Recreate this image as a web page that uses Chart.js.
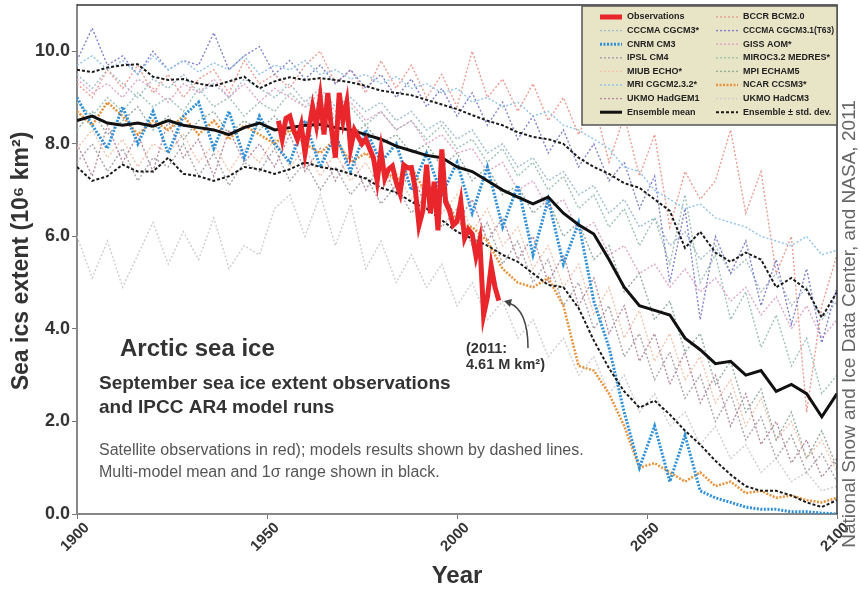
<!DOCTYPE html>
<html>
<head>
<meta charset="utf-8">
<script src="https://cdn.jsdelivr.net/npm/chart.js@4.4.1/dist/chart.umd.min.js"></script>
<style>
  body { margin: 0; background: #fff; }
  canvas { display: block; }
</style>
</head>
<body>
<canvas id="grafica" width="860" height="589"></canvas>
<script>
// years (categories)
const obsYears = [];
for (let y = 1953; y <= 2011; y++) obsYears.push(y);
const modelYears = [];
for (let y = 1900; y <= 2100; y += 4) modelYears.push(y);

const yTicks = [0, 2, 4, 6, 8, 10];
const xTicks = [1900, 1950, 2000, 2050, 2100];

// September extent, million km2
const observations = [8.5, 8.1, 8.55, 8.6, 8.3, 8.1, 8.4, 7.8, 8.3, 8.8,
  8.4, 9.0, 8.2, 9.1, 8.3, 7.7, 9.1, 8.5, 8.9, 7.9,
  8.3, 8.15, 8.0, 8.1, 7.9, 7.7,
  7.2, 7.85, 7.25, 7.45, 7.52, 7.17, 6.93, 7.54, 7.48, 7.49,
  7.04, 6.24, 6.55, 7.55, 6.5, 7.18, 6.13, 7.88, 6.74, 6.56,
  6.24, 6.32, 6.75, 5.96, 6.15, 6.05, 5.57, 5.92, 4.3, 4.68,
  5.36, 4.9, 4.61];

const ensembleMean = [8.5, 8.6, 8.45, 8.4, 8.45, 8.38, 8.5, 8.4, 8.35, 8.3,
  8.2, 8.35, 8.45, 8.3, 8.35, 8.4, 8.42, 8.35, 8.3, 8.2,
  8.1, 7.95, 7.85, 7.75, 7.7, 7.5, 7.4, 7.2, 7.0, 6.85,
  6.7, 6.85, 6.5, 6.25, 6.05, 5.5, 4.9, 4.5, 4.4, 4.3,
  3.8, 3.55, 3.25, 3.3, 3.0, 3.1, 2.65, 2.8, 2.6, 2.1, 2.6];
const ensembleUpper = [9.6, 9.55, 9.65, 9.7, 9.72, 9.45, 9.38, 9.4, 9.3, 9.25,
  9.35, 9.45, 9.2, 9.35, 9.44, 9.38, 9.42, 9.38, 9.33, 9.25,
  9.15, 9.1, 9.05, 8.95, 8.85, 8.75, 8.62, 8.5, 8.4, 8.25,
  8.15, 8.1, 8.0, 7.7, 7.5, 7.35, 7.15, 7.05, 6.8, 6.55,
  5.75, 6.1, 5.65, 5.45, 5.65, 5.5, 4.9, 5.1, 4.85, 4.25, 4.8];
const ensembleLower = [7.5, 7.2, 7.3, 7.55, 7.4, 7.4, 7.7, 7.35, 7.3, 7.2,
  7.3, 7.5, 7.45, 7.35, 7.45, 7.6, 7.5, 7.45, 7.35, 7.25,
  7.05, 6.95, 6.75, 6.6, 6.35, 6.1, 5.95, 5.8, 5.6, 5.45,
  5.2, 4.95, 4.9, 4.45, 3.75, 3.15, 2.65, 2.3, 2.45, 2.15,
  1.8, 1.5, 1.15, 0.85, 0.6, 0.5, 0.5, 0.4, 0.25, 0.15, 0.3];

const cnrm = [9.0, 8.4, 7.9, 8.8, 8.0, 8.7, 7.8, 8.6, 8.9, 7.9,
  8.7, 7.7, 8.6, 8.0, 7.6, 8.5, 7.5, 8.2, 7.4, 8.3,
  7.6, 8.0, 7.0, 7.8, 6.9, 7.6, 6.5, 7.5, 6.2, 7.1,
  5.6, 6.8, 5.4, 6.3, 4.6, 3.6, 2.2, 1.0, 1.9, 0.7,
  1.7, 0.5, 0.35, 0.25, 0.15, 0.1, 0.1, 0.05, 0.05, 0.02, 0.0];
const ncar = [8.7, 8.4, 8.9, 8.6, 8.2, 8.5, 8.3, 8.6, 8.2, 8.5,
  8.1, 8.4, 8.2, 8.0, 8.3, 8.0, 7.8, 8.1, 7.6, 7.8,
  7.5, 7.2, 7.5, 6.9, 7.0, 6.3, 6.2, 5.9, 5.3, 5.0,
  4.9, 5.1, 4.5, 3.2, 3.1, 2.6, 1.9, 1.0, 1.1, 0.9,
  0.7, 0.9, 0.6, 0.7, 0.45, 0.5, 0.35, 0.4, 0.3, 0.25, 0.35];
const mri = [9.7, 9.9, 9.6, 9.8, 9.5, 9.9, 9.6, 9.8, 9.55, 9.75,
  9.6, 9.9, 9.5, 9.7, 9.6, 9.8, 9.5, 9.6, 9.4, 9.5,
  9.3, 9.45, 9.2, 9.3, 9.1, 9.2, 8.9, 9.0, 8.8, 8.9,
  8.6, 8.7, 8.4, 8.3, 8.1, 7.9, 7.5, 7.4, 7.0, 6.8,
  6.6, 6.7, 6.4, 6.3, 6.2, 6.0, 5.9, 5.8, 6.0, 5.6, 5.7];
const cccmaT63 = [9.8, 10.5, 9.7, 9.9, 9.5, 10.0, 9.6, 9.8, 9.7, 10.4,
  9.6, 9.9, 10.1, 9.5, 9.8, 9.4, 9.7, 9.3, 9.6, 9.2,
  9.5, 9.0, 9.4, 8.8, 9.2, 8.6, 9.1, 8.4, 8.9, 8.1,
  8.6, 7.8, 8.3, 7.5, 8.0, 7.2, 7.6, 6.6, 7.3, 5.0,
  6.6, 4.2, 6.0, 5.2, 5.9, 4.5, 5.5, 4.1, 5.3, 3.7, 4.9];
const bccr = [9.3, 9.0, 9.6, 9.2, 9.7, 9.1, 9.5, 9.0, 9.4, 9.6,
  9.1, 9.8, 9.3, 9.5, 9.2, 9.7, 10.0, 9.3, 9.6, 9.1,
  9.8, 9.2, 9.7, 9.0, 9.5, 8.8, 10.0, 9.0, 9.4, 8.7,
  9.3, 8.5, 9.0, 8.2, 8.9, 7.6, 8.6, 7.3, 8.2, 6.2,
  7.4, 6.8, 7.2, 8.3, 6.5, 7.4, 5.2, 6.0, 2.2, 4.5, 5.6];
const giss = [9.4, 9.1, 9.3, 9.0, 9.4, 9.2, 8.9, 9.3, 9.1, 9.4,
  9.0, 9.3, 8.9, 9.2, 9.0, 8.8, 9.1, 8.7, 8.9, 8.5,
  8.7, 8.3, 8.5, 8.0, 8.2, 7.8, 7.9, 7.4, 7.6, 7.0,
  7.2, 6.6, 6.8, 6.1, 6.3, 5.6, 5.8, 5.2, 5.4, 4.9,
  5.3, 4.8, 5.1, 4.6, 4.9, 4.3, 4.7, 4.0, 4.5, 3.8, 4.2];
const miroc = [8.9, 8.6, 9.0, 8.7, 9.1, 8.8, 9.0, 8.7, 9.2, 8.8,
  9.0, 8.6, 8.9, 8.7, 9.1, 8.8, 8.9, 8.6, 8.8, 8.4,
  8.7, 8.3, 8.5, 8.1, 8.4, 7.9, 8.1, 7.6, 7.9, 7.3,
  7.6, 7.0, 7.3, 6.6, 6.9, 6.2, 6.6, 5.8, 6.4, 5.4,
  6.9, 5.0, 5.6, 4.2, 4.8, 3.6, 4.3, 3.2, 3.8, 2.6, 3.0];
const mpi = [8.3, 8.7, 8.2, 8.5, 8.8, 8.3, 8.6, 8.1, 8.5, 8.7,
  8.2, 8.5, 8.3, 8.6, 8.2, 8.5, 8.3, 8.6, 8.2, 8.4,
  8.0, 8.2, 7.8, 8.0, 7.5, 7.8, 7.2, 7.5, 6.9, 7.1,
  6.5, 6.8, 6.0, 6.3, 5.5, 5.8, 4.8, 5.2, 4.2, 4.6,
  3.5, 3.9, 2.8, 3.3, 2.2, 2.7, 1.6, 2.2, 1.2, 1.8, 1.0];
const hadgem1 = [8.0, 7.3, 8.4, 7.6, 8.2, 7.4, 8.5, 7.7, 8.1, 7.3,
  8.3, 7.6, 8.0, 7.5, 8.2, 7.4, 7.9, 7.2, 7.8, 7.0,
  7.6, 6.9, 7.4, 6.6, 7.1, 6.3, 6.8, 5.9, 6.4, 5.5,
  6.0, 5.0, 5.6, 4.5, 5.1, 3.9, 4.5, 3.3, 3.9, 2.8,
  3.5, 2.4, 3.0, 1.9, 2.6, 1.5, 2.0, 1.1, 1.6, 0.8, 1.2];
const ipsl = [7.6, 8.0, 7.4, 7.9, 7.2, 7.7, 7.5, 8.0, 7.3, 7.8,
  7.1, 7.6, 7.4, 7.9, 7.2, 7.6, 7.0, 7.5, 6.9, 7.3,
  6.7, 7.1, 6.5, 6.9, 6.2, 6.6, 5.8, 6.3, 5.4, 5.9,
  5.0, 5.5, 4.5, 5.0, 4.0, 4.5, 3.4, 3.9, 2.9, 3.5,
  2.5, 3.0, 2.0, 2.6, 1.6, 2.1, 1.2, 1.7, 0.9, 1.3, 0.7];
const miub = [7.9, 8.3, 7.7, 8.1, 7.5, 8.0, 7.8, 8.2, 7.6, 8.0,
  7.4, 7.9, 7.6, 8.1, 7.5, 7.9, 7.3, 7.8, 7.2, 7.6,
  7.0, 7.4, 6.8, 7.2, 6.5, 6.9, 6.1, 6.6, 5.8, 6.2,
  5.3, 5.8, 4.9, 5.4, 4.3, 4.9, 3.8, 4.4, 3.3, 3.9,
  2.9, 3.4, 2.4, 2.9, 1.9, 2.5, 1.6, 2.0, 1.2, 1.6, 0.9];
const hadcm3 = [6.0, 5.1, 5.9, 4.9, 5.6, 6.3, 5.4, 6.1, 5.5, 6.4,
  5.3, 5.8, 5.6, 6.6, 6.9, 6.0, 6.9, 5.8, 6.7, 5.3,
  5.9, 5.0, 5.6, 4.9, 5.4, 4.5, 5.0, 4.2, 4.6, 3.8,
  4.2, 3.4, 3.8, 3.0, 3.4, 2.6, 3.0, 2.2, 2.6, 1.9,
  2.2, 1.5, 1.9, 1.2, 1.5, 0.9, 1.2, 0.7, 0.9, 0.5, 0.6];
const cccma = [9.5, 9.2, 9.6, 9.3, 9.0, 9.4, 9.2, 9.5, 9.1, 9.3,
  9.0, 9.4, 9.2, 9.0, 9.3, 8.9, 9.2, 8.8, 9.0, 8.7,
  8.9, 8.5, 8.7, 8.3, 8.5, 8.1, 8.3, 7.8, 8.0, 7.5,
  7.7, 7.2, 7.4, 6.9, 7.1, 6.5, 6.8, 6.2, 6.4, 5.8,
  6.1, 5.5, 5.8, 5.2, 5.5, 4.8, 5.2, 4.5, 4.9, 4.2, 4.6];

const fuente = '"Liberation Sans", Arial, sans-serif';

function puntos(years, values) {
  return values.map((v, i) => ({ x: years[i], y: v }));
}

function serie(label, years, values, color, width, dash) {
  return {
    label: label,
    data: puntos(years, values),
    borderColor: color,
    backgroundColor: color,
    borderWidth: width,
    borderDash: dash || [],
    pointRadius: 0,
    fill: false,
    tension: 0
  };
}

// first dataset ends up on top
const datasets = [
  serie('Observations', obsYears, observations, '#e8262b', 5),
  serie('Ensemble mean', modelYears, ensembleMean, '#111111', 3),
  serie('Ensemble \u00b1 std. dev.', modelYears, ensembleUpper, '#1a1a1a', 2, [3, 2]),
  serie('lower', modelYears, ensembleLower, '#1a1a1a', 2, [3, 2]),
  serie('CNRM CM3', modelYears, cnrm, '#2f90d8', 3, [2, 1.5]),
  serie('NCAR CCSM3*', modelYears, ncar, '#e8923a', 2.5, [2, 1.5]),
  serie('MRI CGCM2.3.2*', modelYears, mri, '#8ec3ea', 1.4, [2, 2]),
  serie('CCCMA CGCM3.1(T63)', modelYears, cccmaT63, '#8080cc', 1.4, [2, 2]),
  serie('BCCR BCM2.0', modelYears, bccr, '#ec9b90', 1.4, [2, 2]),
  serie('GISS AOM*', modelYears, giss, '#e2a4c8', 1.4, [2, 2]),
  serie('MIROC3.2 MEDRES*', modelYears, miroc, '#9cc2b4', 1.4, [2, 2]),
  serie('MPI ECHAM5', modelYears, mpi, '#93ab9d', 1.4, [2, 2]),
  serie('UKMO HadGEM1', modelYears, hadgem1, '#b88aa2', 1.4, [2, 2]),
  serie('IPSL CM4', modelYears, ipsl, '#aaa3a7', 1.4, [2, 2]),
  serie('MIUB ECHO*', modelYears, miub, '#f3c3aa', 1.4, [2, 2]),
  serie('UKMO HadCM3', modelYears, hadcm3, '#cdcdd2', 1.4, [2, 2]),
  serie('CCCMA CGCM3*', modelYears, cccma, '#9fbccc', 1.4, [2, 2])
];

const leyendaIzq = ['Observations', 'CCCMA CGCM3*', 'CNRM CM3', 'IPSL CM4', 'MIUB ECHO*', 'MRI CGCM2.3.2*', 'UKMO HadGEM1', 'Ensemble mean'];
const leyendaDer = ['BCCR BCM2.0', 'CCCMA CGCM3.1(T63)', 'GISS AOM*', 'MIROC3.2 MEDRES*', 'MPI ECHAM5', 'NCAR CCSM3*', 'UKMO HadCM3', 'Ensemble \u00b1 std. dev.'];

const dibujoExtra = {
  id: 'dibujoExtra',
  afterDraw(chart) {
    const ctx = chart.ctx;
    const area = chart.chartArea;
    ctx.save();

    // frame top and right
    ctx.strokeStyle = '#333';
    ctx.lineWidth = 1.5;
    ctx.setLineDash([]);
    ctx.beginPath();
    ctx.moveTo(area.left, area.top);
    ctx.lineTo(area.right, area.top);
    ctx.lineTo(area.right, area.bottom);
    ctx.stroke();

    // legend box
    const bx = 582, by = 6, bw = 255, bh = 119;
    ctx.fillStyle = '#e8e4c6';
    ctx.fillRect(bx, by, bw, bh);
    ctx.strokeStyle = '#555';
    ctx.lineWidth = 1.5;
    ctx.strokeRect(bx, by, bw, bh);

    ctx.font = 'bold 9px ' + fuente;
    ctx.textBaseline = 'middle';
    ctx.textAlign = 'left';
    function entrada(label, x0, y) {
      const ds = chart.data.datasets.find(d => d.label === label);
      ctx.strokeStyle = ds.borderColor;
      ctx.lineWidth = ds.borderWidth;
      ctx.setLineDash(ds.borderDash);
      ctx.beginPath();
      ctx.moveTo(x0, y);
      ctx.lineTo(x0 + 22, y);
      ctx.stroke();
      ctx.setLineDash([]);
      ctx.fillStyle = '#222';
      ctx.fillText(label, x0 + 27, y, 91);
    }
    leyendaIzq.forEach((l, i) => entrada(l, 600, 17 + i * 13.6));
    leyendaDer.forEach((l, i) => entrada(l, 716, 17 + i * 13.6));

    // y axis title
    ctx.fillStyle = '#333';
    ctx.font = 'bold 23px ' + fuente;
    ctx.textAlign = 'center';
    ctx.textBaseline = 'middle';
    ctx.save();
    ctx.translate(22, 261);
    ctx.rotate(-Math.PI / 2);
    ctx.fillText('Sea ics extent (10\u2076 km\u00b2)', 0, 0);
    ctx.restore();

    // credit on the right
    ctx.save();
    ctx.fillStyle = '#666';
    ctx.font = '19px ' + fuente;
    ctx.translate(850, 324);
    ctx.rotate(-Math.PI / 2);
    ctx.fillText('National Snow and Ice Data Center, and NASA, 2011', 0, 0);
    ctx.restore();

    // text block
    ctx.textAlign = 'left';
    ctx.textBaseline = 'alphabetic';
    ctx.fillStyle = '#333';
    ctx.font = 'bold 24px ' + fuente;
    ctx.fillText('Arctic sea ice', 120, 356);
    ctx.font = 'bold 19px ' + fuente;
    ctx.fillText('September sea ice extent observations', 99, 389);
    ctx.fillText('and IPCC AR4 model runs', 99, 413);
    ctx.fillStyle = '#555';
    ctx.font = '16px ' + fuente;
    ctx.fillText('Satellite observations in red); models results shown by dashed lines.', 99, 455);
    ctx.fillText('Multi-model mean and 1\u03c3 range shown in black.', 99, 477);

    // 2011 note with arrow
    ctx.fillStyle = '#333';
    ctx.font = 'bold 14.5px ' + fuente;
    ctx.fillText('(2011:', 466, 353);
    ctx.fillText('4.61 M km\u00b2)', 466, 369);
    ctx.strokeStyle = '#444';
    ctx.lineWidth = 1.5;
    ctx.beginPath();
    ctx.moveTo(528, 348);
    ctx.quadraticCurveTo(528, 310, 509, 303);
    ctx.stroke();
    ctx.fillStyle = '#444';
    ctx.beginPath();
    ctx.moveTo(504, 301);
    ctx.lineTo(512, 299);
    ctx.lineTo(510, 307);
    ctx.closePath();
    ctx.fill();

    ctx.restore();
  }
};

new Chart(document.getElementById('grafica'), {
  type: 'line',
  data: { datasets: datasets },
  options: {
    responsive: false,
    animation: false,
    devicePixelRatio: 1,
    layout: { padding: { top: 5, right: 23, left: 0, bottom: 0 } },
    plugins: { legend: { display: false }, tooltip: { enabled: false } },
    scales: {
      x: {
        type: 'linear',
        min: 1900,
        max: 2100,
        afterBuildTicks: s => { s.ticks = xTicks.map(v => ({ value: v })); },
        afterFit: s => { s.height = 75; s.paddingLeft = 0; s.paddingRight = 0; },
        grid: { drawOnChartArea: false, tickLength: 5, color: '#777' },
        border: { color: '#888', width: 2 },
        ticks: {
          minRotation: 45, maxRotation: 45, padding: 0,
          labelOffset: 10,
          color: '#333',
          font: { family: fuente, size: 15, weight: 'bold' },
          callback: v => String(v)
        },
        title: {
          display: true, text: 'Year', color: '#333',
          font: { family: fuente, size: 24, weight: 'bold' },
          padding: { top: 0, bottom: -2 }
        }
      },
      y: {
        min: 0,
        max: 11,
        afterBuildTicks: s => { s.ticks = yTicks.map(v => ({ value: v })); },
        afterFit: s => { s.width = 77; s.paddingTop = 0; s.paddingBottom = 0; },
        grid: { drawOnChartArea: false, tickLength: 5, color: '#777' },
        border: { color: '#888', width: 2 },
        ticks: {
          padding: 2,
          color: '#333',
          font: { family: fuente, size: 18, weight: 'bold' },
          callback: v => v.toFixed(1)
        }
      }
    }
  },
  plugins: [dibujoExtra]
});
</script>
</body>
</html>
